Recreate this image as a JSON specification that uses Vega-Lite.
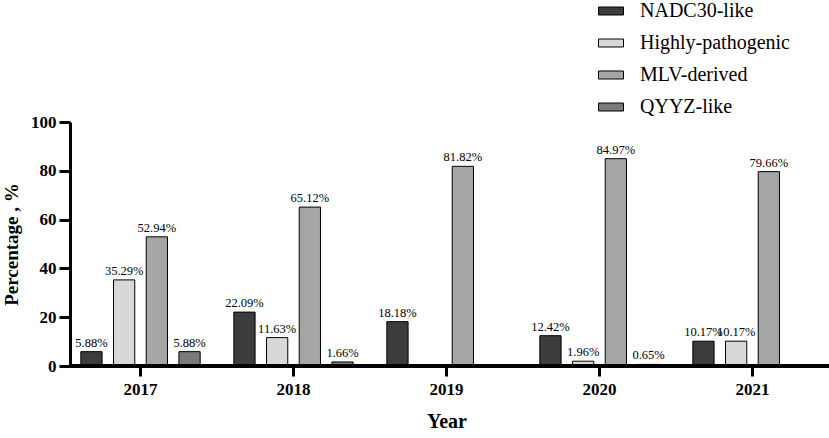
{
  "$schema": "https://vega.github.io/schema/vega-lite/v6.json",
  "description": "Percentage of lineages by year",
  "width": 759,
  "height": 244,
  "autosize": "none",
  "padding": {"left": 70, "top": 122, "right": 0, "bottom": 72},
  "background": "white",
  "config": {
    "font": "Liberation Serif",
    "view": {"stroke": null},
    "axis": {"labelColor": "black", "titleColor": "black", "tickColor": "black", "domainColor": "black", "grid": false}
  },
  "data": {
    "values": [
      {"year": "2017", "type": "NADC30-like", "pct": 5.88},
      {"year": "2017", "type": "Highly-pathogenic", "pct": 35.29},
      {"year": "2017", "type": "MLV-derived", "pct": 52.94},
      {"year": "2017", "type": "QYYZ-like", "pct": 5.88},
      {"year": "2018", "type": "NADC30-like", "pct": 22.09},
      {"year": "2018", "type": "Highly-pathogenic", "pct": 11.63},
      {"year": "2018", "type": "MLV-derived", "pct": 65.12},
      {"year": "2018", "type": "QYYZ-like", "pct": 1.66},
      {"year": "2019", "type": "NADC30-like", "pct": 18.18},
      {"year": "2019", "type": "MLV-derived", "pct": 81.82},
      {"year": "2020", "type": "NADC30-like", "pct": 12.42},
      {"year": "2020", "type": "Highly-pathogenic", "pct": 1.96},
      {"year": "2020", "type": "MLV-derived", "pct": 84.97},
      {"year": "2020", "type": "QYYZ-like", "pct": 0.65},
      {"year": "2021", "type": "NADC30-like", "pct": 10.17},
      {"year": "2021", "type": "Highly-pathogenic", "pct": 10.17},
      {"year": "2021", "type": "MLV-derived", "pct": 79.66}
    ]
  },
  "encoding": {
    "x": {
      "field": "year",
      "type": "nominal",
      "scale": {"range": [-6, 759], "paddingInner": 0, "paddingOuter": 0},
      "axis": {
        "title": "Year",
        "domain": false,
        "labelAngle": 0,
        "tickSize": 10,
        "tickWidth": 3,
        "labelFontSize": 17,
        "labelFontWeight": "bold",
        "labelPadding": 5,
        "titleFontSize": 20,
        "titleFontWeight": "bold",
        "titlePadding": 14
      }
    },
    "xOffset": {
      "field": "type",
      "type": "nominal",
      "scale": {
        "domain": ["NADC30-like", "Highly-pathogenic", "MLV-derived", "QYYZ-like"],
        "paddingInner": 0.35,
        "paddingOuter": 0.515
      }
    },
    "y": {
      "field": "pct",
      "type": "quantitative",
      "scale": {"domain": [0, 100]},
      "axis": {
        "title": "Percentage , %",
        "values": [0, 20, 40, 60, 80, 100],
        "tickSize": 11,
        "tickWidth": 3,
        "domainWidth": 3,
        "labelFontSize": 17,
        "labelFontWeight": "bold",
        "labelPadding": 3,
        "titleFontSize": 19,
        "titleFontWeight": "bold",
        "titlePadding": 9
      }
    }
  },
  "layer": [
    {
      "mark": {"type": "bar", "stroke": "black", "strokeWidth": 1},
      "encoding": {
        "color": {
          "field": "type",
          "type": "nominal",
          "scale": {
            "domain": ["NADC30-like", "Highly-pathogenic", "MLV-derived", "QYYZ-like"],
            "range": ["#3c3c3c", "#d8d8d8", "#a6a6a6", "#7a7a7a"]
          },
          "legend": {
            "title": null,
            "orient": "none",
            "legendX": 528,
            "legendY": -124,
            "padding": 0,
            "symbolType": "M-1,-0.32H1V0.32H-1Z",
            "symbolSize": 625,
            "symbolStrokeColor": "black",
            "symbolStrokeWidth": 1,
            "symbolOpacity": 1,
            "labelFontSize": 20,
            "labelColor": "black",
            "labelOffset": 16,
            "rowPadding": 9
          }
        }
      }
    },
    {
      "mark": {
        "type": "text",
        "fontSize": 12.5,
        "baseline": "bottom",
        "dy": -2,
        "color": "black",
        "text": {"expr": "format(datum.pct, '.2f') + '%'"}
      }
    },
    {
      "mark": {"type": "rule", "strokeWidth": 3, "color": "black"},
      "encoding": {"x": null, "xOffset": null, "y": {"datum": 0}}
    }
  ]
}
